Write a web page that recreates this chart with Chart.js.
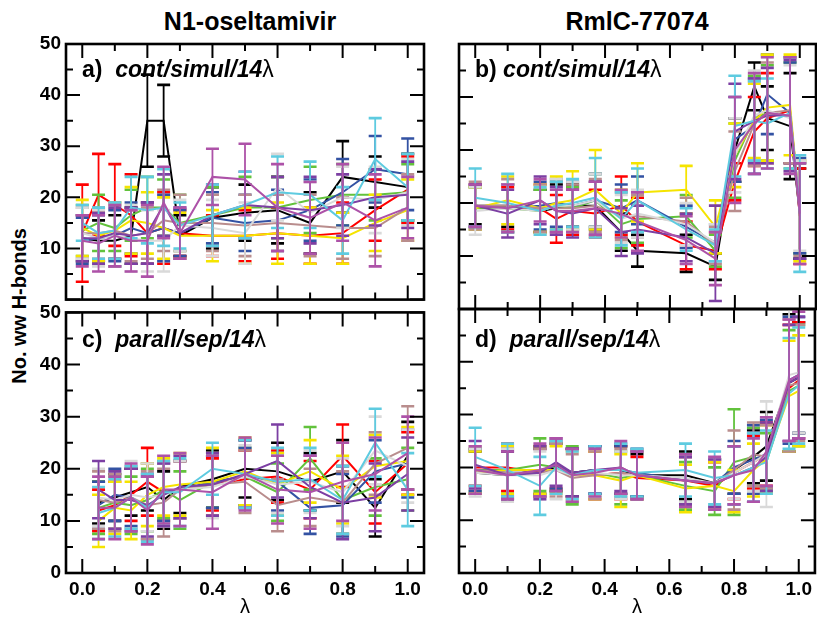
<!DOCTYPE html>
<html lang="en">
<head>
    <meta charset="utf-8" />
    <title>No. ww H-bonds vs lambda</title>
    <style>
        body { margin: 0; background: #fff; }
        #wrap {
            position: relative; width: 817px; height: 618px; overflow: hidden;
            font-family: "Liberation Sans", Arial, sans-serif; color: #000;
        }
        canvas { position: absolute; }
        .txt { position: absolute; white-space: nowrap; }
        .coltitle { font-weight: bold; font-size: 25px; top: 7px; transform: translateX(-50%); }
        .plab { font-size: 23px; font-weight: bold; line-height: 23px; }
        .plab .lam { font-weight: normal; }
        .xlab { font-size: 20px; top: 595px; transform: translateX(-50%); }
        .ylab { font-size: 20px; font-weight: bold; left: 19px; top: 306px; transform: translate(-50%, -50%) rotate(-90deg); }
    </style>
</head>
<body>
<div id="wrap">
    <div class="txt coltitle" style="left:250px">N1-oseltamivir</div>
    <div class="txt coltitle" style="left:637px">RmlC-77074</div>
    <div class="txt ylab">No. ww H-bonds</div>

    <canvas id="panelA" width="430" height="292" style="left:0;top:24px"></canvas>
    <canvas id="panelB" width="377" height="292" style="left:440px;top:24px"></canvas>
    <canvas id="panelC" width="430" height="322" style="left:0;top:296px"></canvas>
    <canvas id="panelD" width="377" height="322" style="left:440px;top:296px"></canvas>

    <div class="txt plab" style="left:82px;top:58px">a)&nbsp; <i>cont/simul/14</i><span class="lam">λ</span></div>
    <div class="txt plab" style="left:475px;top:58px">b) <i>cont/simul/14</i><span class="lam">λ</span></div>
    <div class="txt plab" style="left:82px;top:328px">c)&nbsp; <i>parall/sep/14</i><span class="lam">λ</span></div>
    <div class="txt plab" style="left:475px;top:328px">d)&nbsp; <i>parall/sep/14</i><span class="lam">λ</span></div>

    <div class="txt xlab" style="left:245px">λ</div>
    <div class="txt xlab" style="left:637px">λ</div>
</div>

<script src="https://cdn.jsdelivr.net/npm/chart.js@4.4.1/dist/chart.umd.min.js"></script>
<script>
// series (same order in every panel, last one ends up on top)
var seriesNames  = ["black", "red", "green", "blue", "yellow", "brown", "grey", "violet", "cyan", "magenta"];
var seriesColors = ["#000000", "#ff0000", "#62c23c", "#3352a3", "#f5e400", "#b98d8d", "#d9d9d9", "#7c3fa3", "#5ecbe0", "#ad52a8"];

var xTickLabels = [0.0, 0.2, 0.4, 0.6, 0.8, 1.0];
var xMinorTicks = [0.1, 0.3, 0.5, 0.7, 0.9];
var yTickLabels = [0, 10, 20, 30, 40, 50];
var yMinorTicks = [5, 15, 25, 35, 45];

// a) N1-oseltamivir, cont/simul
var lamA = [0, 0.05, 0.1, 0.15, 0.2, 0.25, 0.3, 0.4, 0.5, 0.6, 0.7, 0.8, 0.9, 1.0];
var meanA = [
    [12.0, 11.5, 11.5, 12.5, 35.0, 35.0, 12.5, 16.0, 17.0, 17.5, 15.0, 24.0, 23.0, 22.0],
    [13.0, 20.5, 18.5, 16.5, 13.0, 14.0, 13.0, 12.5, 12.5, 13.0, 12.5, 13.0, 17.5, 21.5],
    [13.5, 15.0, 14.0, 16.5, 18.0, 18.0, 15.0, 16.5, 18.0, 18.0, 19.5, 20.5, 20.5, 21.0],
    [11.5, 12.0, 12.5, 14.0, 13.0, 14.0, 13.0, 16.0, 15.0, 15.5, 17.5, 21.0, 25.5, 24.5],
    [14.0, 12.5, 13.5, 15.5, 15.0, 14.0, 12.5, 12.5, 12.5, 13.0, 12.5, 12.0, 15.0, 17.5],
    [13.0, 13.0, 13.5, 12.5, 13.0, 15.5, 15.0, 15.0, 14.5, 15.0, 14.5, 14.0, 14.0, 18.0],
    [13.0, 12.0, 12.5, 12.0, 11.5, 11.5, 14.5, 14.0, 13.0, 22.0, 17.0, 20.0, 19.5, 21.0],
    [12.0, 12.0, 13.0, 12.5, 13.0, 18.5, 13.0, 16.5, 18.5, 18.0, 17.5, 18.5, 20.0, 20.5],
    [15.0, 13.0, 13.5, 18.0, 17.5, 18.0, 14.5, 16.5, 18.5, 21.0, 20.5, 15.5, 27.5, 22.0],
    [11.5, 11.0, 12.5, 11.5, 11.5, 19.0, 13.0, 24.0, 23.5, 18.0, 16.0, 19.0, 15.5, 18.0]
];
var errA = [
    [4.5, 4.0, 5.0, 5.5, 9.0, 7.0, 4.0, 6.0, 5.5, 6.5, 6.0, 7.0, 5.0, 6.5],
    [9.5, 8.0, 8.0, 8.0, 6.0, 7.0, 4.5, 4.0, 5.0, 5.0, 5.5, 6.0, 6.0, 6.5],
    [5.0, 5.5, 4.5, 5.0, 6.0, 5.5, 5.5, 5.5, 6.0, 6.0, 6.5, 6.0, 5.0, 5.5],
    [4.5, 4.5, 5.0, 5.0, 6.0, 6.5, 4.5, 5.0, 5.5, 6.0, 6.0, 6.5, 6.5, 7.0],
    [5.5, 5.0, 5.5, 6.5, 6.0, 6.0, 4.5, 5.0, 5.5, 6.0, 5.5, 5.0, 5.5, 6.0],
    [5.0, 5.0, 5.5, 5.0, 5.0, 6.0, 5.5, 5.5, 6.0, 5.5, 6.0, 6.0, 5.5, 6.5],
    [5.0, 5.5, 6.0, 6.5, 6.0, 6.0, 5.0, 5.5, 6.0, 6.5, 6.0, 6.0, 6.5, 6.5],
    [4.5, 5.0, 5.0, 5.5, 6.0, 6.0, 5.0, 6.0, 6.5, 6.0, 6.5, 6.0, 5.5, 6.5],
    [3.5, 5.0, 5.5, 6.0, 6.5, 7.5, 4.5, 6.0, 6.5, 7.0, 6.5, 6.5, 8.0, 6.5],
    [5.0, 5.5, 6.0, 6.0, 7.0, 7.0, 5.0, 5.5, 7.0, 8.5, 7.0, 7.5, 9.0, 6.0]
];

// b) RmlC-77074, cont/simul
var lamB = [0, 0.1, 0.2, 0.25, 0.3, 0.37, 0.45, 0.5, 0.65, 0.74, 0.8, 0.86, 0.9, 0.97, 1.0];
var meanB = [
    [19.5, 19.5, 18.5, 19.0, 19.5, 19.5, 14.5, 11.0, 10.5, 8.0, 30.0, 42.0, 36.0, 34.5, 18.0],
    [19.5, 19.0, 19.0, 17.0, 18.5, 18.0, 19.5, 16.5, 12.0, 11.0, 24.0, 33.5, 36.0, 37.5, 17.5],
    [19.0, 19.0, 18.5, 19.5, 19.0, 20.5, 16.0, 17.0, 17.5, 11.0, 28.0, 36.0, 37.0, 36.5, 19.0],
    [19.5, 19.0, 19.5, 20.0, 19.5, 20.5, 19.0, 20.5, 15.5, 12.5, 32.0, 34.5, 40.5, 37.0, 19.5],
    [19.0, 20.5, 19.0, 20.0, 20.5, 22.5, 18.0, 22.0, 22.5, 15.5, 29.0, 35.5, 38.0, 38.5, 18.5],
    [19.5, 19.5, 19.0, 19.0, 19.0, 19.5, 17.5, 17.5, 16.5, 12.0, 26.0, 35.0, 37.0, 37.5, 19.0],
    [18.5, 19.0, 18.5, 19.5, 19.5, 20.5, 17.0, 18.0, 16.0, 12.5, 29.0, 36.5, 37.5, 36.0, 19.5],
    [19.5, 18.0, 20.5, 18.5, 18.0, 19.0, 14.5, 15.0, 13.5, 10.5, 33.5, 35.5, 36.5, 36.5, 18.5],
    [21.0, 20.0, 18.5, 19.5, 20.0, 21.0, 17.0, 20.5, 15.0, 12.0, 34.5, 35.5, 35.0, 37.0, 18.0],
    [19.5, 19.0, 20.5, 18.5, 18.5, 19.0, 18.0, 16.5, 13.0, 9.5, 30.0, 35.0, 37.0, 36.5, 18.0]
];
var errB = [
    [3.5, 4.0, 4.0, 4.5, 4.0, 4.5, 3.5, 3.0, 3.5, 2.5, 6.0, 4.5, 6.0, 10.0, 8.5],
    [4.0, 4.0, 4.5, 4.5, 4.5, 4.5, 5.5, 4.5, 4.5, 3.5, 3.5, 6.5, 8.5, 10.0, 9.0],
    [4.0, 4.5, 4.0, 4.5, 4.0, 5.0, 4.5, 4.5, 4.0, 3.0, 7.0, 8.0, 9.0, 10.0, 8.5],
    [4.0, 4.5, 4.5, 4.5, 4.5, 5.0, 4.5, 4.5, 4.0, 3.5, 8.0, 9.0, 7.5, 9.5, 9.0],
    [4.0, 4.5, 4.5, 5.0, 5.5, 7.5, 4.5, 5.5, 4.5, 5.0, 6.0, 7.0, 10.0, 9.5, 9.5],
    [4.5, 5.0, 4.5, 5.0, 4.5, 5.0, 4.5, 4.0, 4.5, 3.5, 7.5, 8.0, 9.5, 10.0, 9.0],
    [4.5, 4.5, 4.5, 5.0, 4.5, 5.0, 4.5, 4.5, 4.0, 3.5, 7.0, 8.5, 10.0, 10.0, 8.5],
    [4.0, 4.5, 4.5, 4.5, 4.5, 5.0, 4.5, 4.5, 4.5, 9.0, 9.0, 8.0, 9.0, 10.5, 9.0],
    [5.5, 5.5, 4.5, 4.5, 4.5, 7.5, 5.0, 6.0, 4.0, 3.0, 9.5, 7.5, 8.5, 10.5, 11.0],
    [4.0, 4.5, 4.0, 4.0, 4.0, 5.0, 4.5, 5.5, 4.5, 5.0, 10.0, 9.5, 10.5, 11.0, 9.5]
];

// c) N1-oseltamivir, parall/sep
var lamC = [0.05, 0.1, 0.15, 0.2, 0.25, 0.3, 0.4, 0.5, 0.6, 0.7, 0.8, 0.9, 1.0];
var meanC = [
    [13.5, 14.5, 15.5, 16.5, 14.0, 16.5, 18.0, 20.0, 19.5, 17.5, 19.5, 12.5, 22.5],
    [12.0, 13.0, 15.0, 17.5, 15.5, 16.0, 17.0, 18.0, 18.5, 16.0, 22.5, 15.5, 21.0],
    [12.5, 13.5, 13.0, 14.0, 16.0, 14.0, 17.5, 18.5, 15.5, 22.0, 14.0, 16.5, 18.0],
    [13.0, 15.0, 14.5, 12.5, 15.5, 16.0, 17.5, 18.5, 17.5, 12.5, 13.0, 19.5, 21.0],
    [10.0, 12.5, 12.0, 15.0, 16.5, 17.0, 17.5, 19.5, 17.0, 19.5, 16.0, 20.5, 21.5],
    [14.0, 13.5, 14.5, 13.0, 13.5, 16.0, 17.0, 17.5, 13.0, 14.5, 13.5, 21.0, 24.0],
    [14.5, 14.0, 15.0, 14.5, 15.0, 16.0, 16.5, 18.5, 17.0, 17.5, 15.5, 23.5, 20.5],
    [16.0, 14.0, 14.0, 13.0, 15.0, 16.5, 17.0, 19.0, 21.5, 16.5, 13.5, 14.5, 19.0],
    [11.5, 12.5, 14.5, 12.5, 15.5, 15.5, 20.0, 19.0, 17.5, 18.0, 14.0, 25.0, 16.0],
    [12.5, 12.5, 14.5, 12.0, 16.0, 16.0, 15.5, 19.0, 16.0, 15.5, 17.5, 19.0, 23.0]
];
var errC = [
    [4.0, 4.5, 4.5, 4.5, 5.5, 5.0, 5.5, 5.5, 5.5, 5.5, 6.0, 5.5, 6.5],
    [4.0, 4.5, 5.0, 6.5, 5.5, 5.5, 5.0, 5.5, 5.0, 5.5, 6.0, 6.0, 6.0],
    [5.0, 5.0, 5.5, 6.0, 5.5, 5.5, 5.0, 5.5, 5.5, 6.0, 6.5, 5.5, 6.0],
    [4.5, 5.0, 5.5, 6.0, 5.5, 5.5, 5.0, 5.5, 5.5, 5.0, 6.0, 6.0, 6.5],
    [5.0, 5.0, 5.5, 6.0, 5.5, 6.0, 6.5, 6.5, 6.0, 6.0, 6.5, 6.0, 6.5],
    [5.5, 5.5, 6.0, 6.5, 6.5, 5.5, 6.0, 6.0, 5.0, 5.5, 6.0, 6.0, 8.0],
    [5.5, 5.5, 6.5, 6.5, 6.0, 5.5, 6.0, 6.0, 5.5, 6.0, 6.5, 6.5, 7.0],
    [5.5, 5.5, 6.0, 6.0, 6.0, 6.0, 6.0, 6.5, 7.0, 6.0, 7.0, 6.5, 7.0],
    [5.0, 5.5, 6.0, 6.5, 6.0, 6.5, 5.0, 6.5, 6.5, 6.0, 6.5, 6.5, 7.0],
    [6.0, 6.0, 6.5, 6.5, 6.5, 7.0, 7.0, 7.0, 6.5, 7.0, 7.5, 7.0, 7.0]
];

// d) RmlC-77074, parall/sep
var lamD = [0, 0.1, 0.2, 0.25, 0.3, 0.37, 0.45, 0.5, 0.65, 0.74, 0.8, 0.86, 0.9, 0.97, 1.0];
var meanD = [
    [19.0, 18.5, 19.5, 20.0, 19.0, 19.5, 19.5, 18.5, 18.5, 17.0, 19.5, 22.0, 24.0, 36.0, 37.0],
    [20.0, 20.0, 19.0, 20.5, 19.0, 18.5, 19.0, 18.0, 17.5, 16.5, 19.0, 21.0, 22.5, 35.0, 36.5],
    [19.5, 19.5, 20.5, 20.0, 18.5, 19.0, 18.0, 18.5, 16.5, 15.5, 21.0, 22.0, 21.0, 34.5, 35.5],
    [19.5, 19.0, 19.0, 20.5, 19.0, 19.5, 19.5, 19.0, 17.5, 17.0, 20.0, 21.5, 22.5, 36.5, 37.5],
    [19.0, 19.5, 19.5, 19.5, 18.5, 18.5, 17.5, 18.5, 16.0, 16.5, 15.5, 19.5, 21.5, 33.5, 34.5],
    [19.5, 19.0, 19.0, 19.5, 18.0, 18.5, 19.0, 18.5, 17.5, 17.0, 19.5, 22.5, 22.0, 35.5, 36.0],
    [19.0, 18.5, 18.5, 19.5, 18.5, 19.0, 18.5, 18.5, 18.0, 17.0, 19.0, 21.0, 22.5, 37.5, 38.0],
    [20.5, 18.5, 19.0, 21.0, 19.0, 19.5, 20.0, 18.5, 17.5, 17.0, 18.5, 20.0, 22.0, 36.0, 37.0],
    [22.0, 19.5, 16.5, 20.0, 18.5, 19.5, 19.5, 19.0, 19.5, 18.0, 18.5, 20.0, 21.0, 34.0, 35.5],
    [19.5, 18.5, 19.5, 20.5, 18.5, 19.0, 20.0, 18.5, 17.5, 17.0, 18.5, 19.5, 23.0, 36.5, 37.5]
];
var errD = [
    [4.0, 4.5, 4.5, 4.5, 4.5, 4.5, 4.5, 4.0, 4.5, 4.5, 4.5, 5.0, 6.5, 13.0, 10.5],
    [3.5, 4.5, 4.5, 4.5, 4.5, 4.5, 5.0, 4.0, 4.5, 4.5, 5.0, 5.0, 6.0, 12.0, 11.0],
    [4.0, 4.5, 5.0, 4.5, 5.5, 4.5, 5.0, 4.5, 4.5, 4.5, 10.0, 5.5, 5.5, 11.5, 11.5],
    [4.0, 4.5, 4.5, 4.5, 4.5, 4.5, 4.5, 4.5, 4.5, 4.5, 5.0, 6.5, 6.5, 12.0, 11.0],
    [4.0, 4.5, 4.5, 4.5, 4.5, 4.5, 5.0, 4.5, 4.5, 4.5, 4.0, 5.0, 6.5, 10.5, 10.5],
    [4.5, 4.5, 4.5, 5.0, 4.5, 4.5, 4.5, 4.5, 4.5, 4.5, 7.5, 6.0, 6.0, 12.5, 11.0],
    [4.5, 5.0, 4.5, 5.5, 4.5, 4.5, 4.5, 4.5, 4.5, 4.5, 5.0, 5.5, 10.0, 12.5, 11.5],
    [4.5, 4.5, 5.0, 4.5, 4.5, 4.5, 4.5, 4.5, 4.5, 4.5, 5.5, 6.5, 6.5, 11.0, 11.5],
    [5.5, 5.0, 5.5, 5.0, 4.5, 4.5, 5.0, 4.5, 5.0, 5.0, 5.5, 6.5, 6.0, 10.5, 11.0],
    [4.5, 4.5, 5.0, 5.0, 5.0, 4.5, 5.0, 4.5, 5.0, 5.0, 5.5, 6.0, 6.5, 11.5, 12.0]
];

// error bars are drawn just before each line so the series stack like the original
var errorBars = {
    id: 'errorBars',
    beforeDatasetDraw: function (chart, args) {
        var ds = chart.data.datasets[args.index];
        var xs = chart.scales.x, ys = chart.scales.y, ctx = chart.ctx, a = chart.chartArea;
        ctx.save();
        ctx.beginPath();
        ctx.rect(a.left, a.top, a.right - a.left, a.bottom - a.top);
        ctx.clip();
        ctx.strokeStyle = ds.borderColor;
        ds.data.forEach(function (p, i) {
            var x = xs.getPixelForValue(p.x);
            var lo = ys.getPixelForValue(p.y - ds.err[i]);
            var hi = ys.getPixelForValue(p.y + ds.err[i]);
            ctx.lineWidth = 1.8;
            ctx.beginPath(); ctx.moveTo(x, lo); ctx.lineTo(x, hi); ctx.stroke();
            ctx.lineWidth = 2.6;
            ctx.beginPath();
            ctx.moveTo(x - 6.5, lo); ctx.lineTo(x + 6.5, lo);
            ctx.moveTo(x - 6.5, hi); ctx.lineTo(x + 6.5, hi);
            ctx.stroke();
        });
        ctx.restore();
    }
};

// box with inward ticks on all four sides
var frame = {
    id: 'frame',
    afterDraw: function (chart) {
        var ctx = chart.ctx, a = chart.chartArea, xs = chart.scales.x, ys = chart.scales.y;
        ctx.save();
        ctx.strokeStyle = '#000';
        ctx.lineWidth = 2;
        function xt(vals, len) {
            vals.forEach(function (v) {
                var x = xs.getPixelForValue(v);
                ctx.beginPath();
                ctx.moveTo(x, a.bottom); ctx.lineTo(x, a.bottom - len);
                ctx.moveTo(x, a.top); ctx.lineTo(x, a.top + len);
                ctx.stroke();
            });
        }
        function yt(vals, len) {
            vals.forEach(function (v) {
                var y = ys.getPixelForValue(v);
                ctx.beginPath();
                ctx.moveTo(a.left, y); ctx.lineTo(a.left + len, y);
                ctx.moveTo(a.right, y); ctx.lineTo(a.right - len, y);
                ctx.stroke();
            });
        }
        xt(xTickLabels, 14); xt(xMinorTicks, 7);
        yt(yTickLabels, 14); yt(yMinorTicks, 7);
        ctx.lineWidth = 2.6;
        ctx.strokeRect(a.left, a.top, a.right - a.left, a.bottom - a.top);
        ctx.restore();
    }
};

var tickFont = { family: "'Liberation Sans', Arial, sans-serif", size: 19, weight: 'bold' };

function makePanel(id, lam, means, errs, opts) {
    var datasets = means.map(function (m, s) {
        return {
            label: seriesNames[s],
            data: m.map(function (v, i) { return { x: lam[i], y: v }; }),
            err: errs[s],
            borderColor: seriesColors[s],
            borderWidth: 2,
            pointRadius: 0,
            tension: 0,
            fill: false,
            order: means.length - s   // chart.js paints low order last
        };
    });
    return new Chart(document.getElementById(id), {
        type: 'line',
        data: { datasets: datasets },
        plugins: [errorBars, frame],
        options: {
            responsive: false,
            animation: false,
            events: [],
            layout: { padding: opts.pad },
            plugins: { legend: { display: false }, tooltip: { enabled: false } },
            scales: {
                x: {
                    type: 'linear', min: -0.05, max: 1.05,
                    grid: { display: false, drawTicks: false },
                    border: { display: false },
                    afterBuildTicks: function (s) { s.ticks = xTickLabels.map(function (v) { return { value: v }; }); },
                    afterFit: function (s) { s.height = opts.showX ? 30 : 0; },
                    ticks: {
                        display: opts.showX, font: tickFont, color: '#000', padding: 5,
                        autoSkip: false, maxRotation: 0,
                        callback: function (v) { return Number(v).toFixed(1); }
                    }
                },
                y: {
                    min: 0, max: 50,
                    grid: { display: false, drawTicks: false },
                    border: { display: false },
                    afterBuildTicks: function (s) { s.ticks = opts.yLabels.map(function (v) { return { value: v }; }); },
                    afterFit: function (s) { s.width = opts.yWidth; },
                    ticks: {
                        display: opts.yLabels.length > 0, font: tickFont, color: '#000', padding: 5,
                        callback: function (v) { return String(v); }
                    }
                }
            }
        }
    });
}

makePanel('panelA', lamA, meanA, errA, {
    pad: { left: 0, top: 20, right: 6, bottom: 7 }, showX: false, yWidth: 66, yLabels: yTickLabels.slice(1)
});
makePanel('panelB', lamB, meanB, errB, {
    pad: { left: 0, top: 20, right: 1, bottom: 7 }, showX: false, yWidth: 19, yLabels: []
});
makePanel('panelC', lamC, meanC, errC, {
    pad: { left: 0, top: 13, right: 6, bottom: 15 }, showX: true, yWidth: 66, yLabels: yTickLabels
});
makePanel('panelD', lamD, meanD, errD, {
    pad: { left: 0, top: 13, right: 1, bottom: 15 }, showX: true, yWidth: 19, yLabels: []
});
</script>
</body>
</html>
